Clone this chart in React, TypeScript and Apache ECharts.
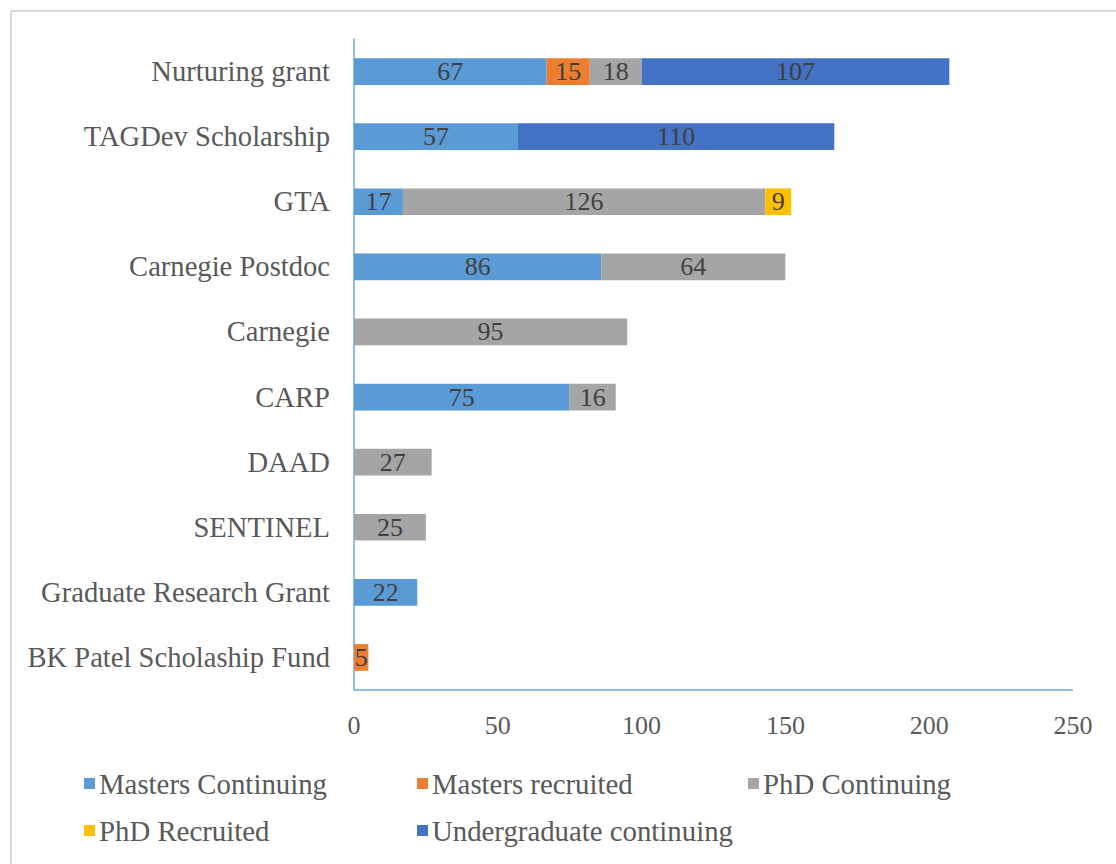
import React, { useEffect, useRef } from "react";
import * as echarts from "echarts";

const categories = [
  "Nurturing grant",
  "TAGDev Scholarship",
  "GTA",
  "Carnegie Postdoc",
  "Carnegie",
  "CARP",
  "DAAD",
  "SENTINEL",
  "Graduate Research Grant",
  "BK Patel Scholaship Fund",
];

const mastersContinuing = [67, 57, 17, 86, null, 75, null, null, 22, null];
const mastersRecruited = [15, null, null, null, null, null, null, null, null, 5];
const phdContinuing = [18, null, 126, 64, 95, 16, 27, 25, null, null];
const phdRecruited = [null, null, 9, null, null, null, null, null, null, null];
const undergradContinuing = [107, 110, null, null, null, null, null, null, null, null];

const xTicks = { min: 0, max: 250, interval: 50 };

const seriesDefs = [
  { name: "Masters Continuing", data: mastersContinuing, color: "#5B9BD5" },
  { name: "Masters recruited", data: mastersRecruited, color: "#ED7D31" },
  { name: "PhD Continuing", data: phdContinuing, color: "#A5A5A5" },
  { name: "PhD Recruited", data: phdRecruited, color: "#FFC000" },
  { name: "Undergraduate continuing", data: undergradContinuing, color: "#4472C4" },
];

const legendPos = [
  { left: 79, top: 764 },
  { left: 412, top: 764 },
  { left: 743, top: 764 },
  { left: 79, top: 811 },
  { left: 412, top: 811 },
];

const FONT = "'Liberation Serif', 'Times New Roman', serif";

export default function App() {
  const ref = useRef<HTMLDivElement>(null);
  useEffect(() => {
    document.body.style.margin = "0";
    const chart = echarts.init(ref.current!, null, { renderer: "svg" });
    chart.setOption({
      animation: false,
      backgroundColor: "#ffffff",
      textStyle: { fontFamily: FONT },
      legend: seriesDefs.map((s, i) => ({
        data: [s.name],
        left: legendPos[i].left,
        top: legendPos[i].top,
        itemWidth: 11,
        itemHeight: 11,
        icon: "rect",
        selectedMode: false,
        textStyle: { fontFamily: FONT, fontSize: 28.8, color: "#595959", padding: [0, 0, 0, -1] },
      })),
      grid: { left: 354, top: 39, right: 43, bottom: 174, containLabel: false },
      xAxis: {
        type: "value",
        min: xTicks.min,
        max: xTicks.max,
        interval: xTicks.interval,
        axisLine: { show: false },
        axisTick: { show: false },
        splitLine: { show: false },
        axisLabel: { fontFamily: FONT, fontSize: 26, color: "#595959", margin: 22 },
      },
      yAxis: {
        type: "category",
        data: categories,
        inverse: true,
        axisLine: { show: true, lineStyle: { color: "#6FA8DC", width: 1.5 } },
        axisTick: { show: false },
        axisLabel: { fontFamily: FONT, fontSize: 28.6, color: "#595959", margin: 24 },
      },
      series: seriesDefs.map((s) => ({
        name: s.name,
        type: "bar",
        stack: "total",
        barWidth: "41%",
        data: s.data,
        itemStyle: { color: s.color },
        label: {
          show: true,
          position: "inside",
          fontFamily: FONT,
          fontSize: 26,
          color: "#404040",
          formatter: (p: any) => (p.value == null ? "" : String(p.value)),
        },
      })),
    });
    const y0 = chart.convertToPixel({ yAxisIndex: 0 }, categories[categories.length - 1]) as number;
    const x0 = chart.convertToPixel({ xAxisIndex: 0 }, xTicks.min) as number;
    const x1 = chart.convertToPixel({ xAxisIndex: 0 }, xTicks.max) as number;
    const half = (864 - 174 - 39) / categories.length / 2;
    chart.setOption({
      graphic: [
        {
          type: "rect",
          shape: { x: 11, y: 11, width: 1200, height: 1000 },
          style: { fill: "none", stroke: "#d9d9d9", lineWidth: 2 },
          silent: true,
        },
        {
          type: "line",
          shape: { x1: x0, y1: y0 + half, x2: x1, y2: y0 + half },
          style: { stroke: "#6FA8DC", lineWidth: 1.5 },
          silent: true,
        },
      ],
    });
    return () => chart.dispose();
  }, []);
  return <div ref={ref} style={{ width: 1116, height: 864 }} />;
}
